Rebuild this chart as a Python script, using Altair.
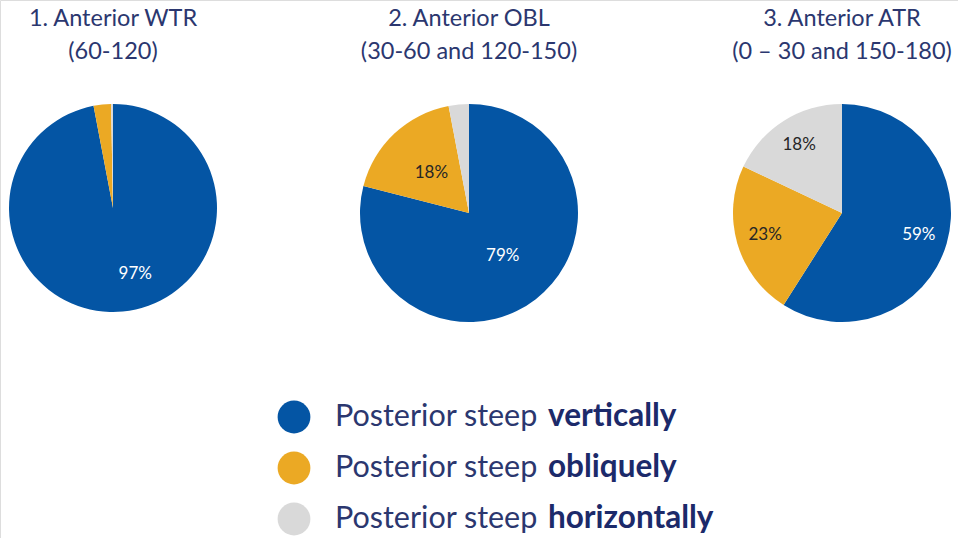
import altair as alt
import pandas as pd

# Pie groups (anterior astigmatism type) and their two-line headings
pie_titles = ["1. Anterior WTR", "2. Anterior OBL", "3. Anterior ATR"]
pie_ranges = ["(60-120)", "(30-60 and 120-150)", "(0 \u2013 30 and 150-180)"]

# Posterior steep-meridian categories
categories = ["vertically", "obliquely", "horizontally"]
cat_colors = ["#0455A4", "#EBA924", "#D9D9D9"]

# Share (%) of each posterior category within each anterior group
wtr_shares = [97, 2.7, 0.3]
obl_shares = [79, 18, 3]
atr_shares = [59, 23, 18]

rows = []
for title, shares in zip(pie_titles, [wtr_shares, obl_shares, atr_shares]):
    for i, (cat, v) in enumerate(zip(categories, shares)):
        rows.append({"pie": title, "category": cat, "order": i, "value": v})
df = pd.DataFrame(rows)

heads = pd.DataFrame({"pie": pie_titles, "sub": pie_ranges})
legend_df = pd.DataFrame({"category": categories,
                          "lead": ["Posterior steep"] * len(categories)})

NAVY = "#2B376F"
DARK_NAVY = "#1C2A6A"
FONT = "Lato"

color_scale = alt.Scale(domain=categories, range=cat_colors)

# layout per pie: centre x, centre y, radius, label radius, label dx
layout = {
    pie_titles[0]: (113, 208, 104, 66, 16),
    pie_titles[1]: (469, 213, 109, 55, 0),
    pie_titles[2]: (842, 213, 109, 80, 0),
}

layers = []
for title in pie_titles:
    cx, cy, r, lr, ldx = layout[title]
    base = alt.Chart(df).transform_filter(alt.datum.pie == title)
    arcs = base.mark_arc(radius=r).encode(
        theta=alt.Theta("value:Q", stack=True),
        color=alt.Color("category:N", scale=color_scale, legend=None),
        order=alt.Order("order:Q"),
        x=alt.value(cx), y=alt.value(cy),
    )
    labels = base.mark_text(radius=lr, dx=ldx, fontSize=17, font=FONT).encode(
        theta=alt.Theta("value:Q", stack=True),
        detail="category:N",
        order=alt.Order("order:Q"),
        text=alt.Text("label:N"),
        color=alt.condition(alt.datum.category == "vertically",
                            alt.value("white"), alt.value("#262626")),
        opacity=alt.condition(alt.datum.value >= 10, alt.value(1), alt.value(0)),
        x=alt.value(cx), y=alt.value(cy),
    ).transform_calculate(label="round(datum.value) + '%'")
    head = alt.Chart(heads).transform_filter(alt.datum.pie == title).mark_text(
        fontSize=23.5, font=FONT, color=NAVY, align="center", baseline="middle",
        lineBreak="\n", lineHeight=33,
    ).encode(
        text="text:N", x=alt.value(cx), y=alt.value(19),
    ).transform_calculate(text="datum.pie + '\\n' + datum.sub")
    layers += [arcs, labels, head]

leg_y = alt.Y("category:N", scale=alt.Scale(domain=categories, range=[417, 519], padding=0), axis=None)
leg_dots = alt.Chart(legend_df).mark_circle(size=1075, opacity=1).encode(
    x=alt.value(294), y=leg_y,
    color=alt.Color("category:N", scale=color_scale, legend=None),
)
leg_lead = alt.Chart(legend_df).mark_text(
    fontSize=30.5, font=FONT, color=NAVY, align="left", baseline="middle",
).encode(x=alt.value(335), y=leg_y, text="lead:N")
leg_word = alt.Chart(legend_df).mark_text(
    fontSize=31.5, font=FONT, fontWeight="bold", color=DARK_NAVY, align="left", baseline="middle",
).encode(x=alt.value(548), y=leg_y, text="category:N")

chart = alt.layer(*layers, leg_dots, leg_lead, leg_word).properties(
    width=958, height=538, autosize=alt.AutoSizeParams(type="none"), padding=0,
).configure_view(stroke=None).configure(background="white")

chart.save("out.html", embed_options={"renderer": "svg", "actions": False})
